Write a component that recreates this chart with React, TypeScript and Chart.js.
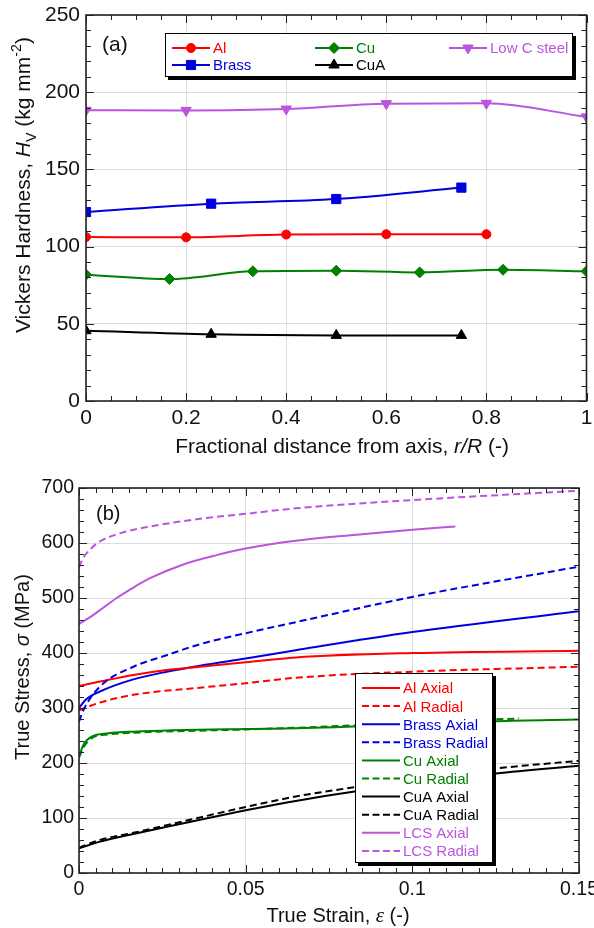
import React, { useEffect, useRef } from 'react';
import { Chart, registerables } from 'chart.js';
Chart.register(...registerables);

const SANS = "'Liberation Sans', Arial, Helvetica, sans-serif";
const SERIF = "'Liberation Serif', 'Times New Roman', serif";
const GRID = '#dddddd';
const FRAME = '#222222';
const TEXT = '#111111';

const RED = '#ff0000';
const BLUE = '#0000dd';
const GREEN = '#008000';
const BLACK = '#000000';
const VIOLET = '#bb55dd';

// ---------- (a) Vickers hardness vs r/R ----------
const alX = [0, 0.2, 0.4, 0.6, 0.8];
const alHV = [106.2, 106, 107.8, 108, 108];
const brassX = [0, 0.25, 0.5, 0.75];
const brassHV = [122.4, 127.8, 130.8, 138.2];
const cuX = [0, 0.1667, 0.3333, 0.5, 0.6667, 0.8333, 1];
const cuHV = [81.8, 79, 84, 84.4, 83.3, 85, 84];
const cuaX = [0, 0.25, 0.5, 0.75];
const cuaHV = [45.5, 43.2, 42.5, 42.5];
const lcsX = [0, 0.2, 0.4, 0.6, 0.8, 1];
const lcsHV = [188.3, 188.2, 189.1, 192.6, 192.8, 184];
const legendALabels = ['Al', 'Brass', 'Cu', 'CuA', 'Low C steel'];

// ---------- (b) True stress vs true strain ----------
const alAxialStrain = [0, 0.0063, 0.0163, 0.0263, 0.0363, 0.05, 0.065, 0.1, 0.15];
const alAxialStress = [340, 348, 360, 369, 375, 383, 392, 400, 404];
const alRadialStrain = [0, 0.0063, 0.0163, 0.0363, 0.05, 0.065, 0.1, 0.15];
const alRadialStress = [296, 310, 324, 337, 345, 355, 366, 375];
const brassAxialStrain = [0, 0.002, 0.0063, 0.0163, 0.0263, 0.0363, 0.05, 0.065, 0.1, 0.15];
const brassAxialStress = [300, 315, 330, 352, 366, 377, 390, 405, 438, 476];
const brassRadialStrain = [0, 0.0013, 0.0063, 0.0163, 0.0263, 0.0363, 0.05, 0.065, 0.1, 0.15];
const brassRadialStress = [275, 296, 339, 375, 396, 416, 436, 456, 502, 557];
const cuAxialStrain = [0, 0.0013, 0.0038, 0.0088, 0.0163, 0.05, 0.065, 0.1, 0.125, 0.15];
const cuAxialStress = [211, 233, 248, 254, 257, 262, 263, 270, 276, 279];
const cuRadialStrain = [0, 0.0013, 0.0038, 0.0088, 0.0163, 0.05, 0.065, 0.1, 0.132];
const cuRadialStress = [210, 228, 245, 252, 255, 261, 264, 273, 281];
const cuaAxialStrain = [0, 0.0063, 0.0163, 0.0263, 0.0363, 0.05, 0.065, 0.0827, 0.125, 0.15];
const cuaAxialStress = [45, 57, 71, 84, 97, 114, 131, 148, 181, 195];
const cuaRadialStrain = [0, 0.0063, 0.0163, 0.0263, 0.0363, 0.05, 0.065, 0.0827, 0.125, 0.15];
const cuaRadialStress = [46, 60, 73, 87, 101, 120, 139, 156, 190, 204];
const lcsAxialStrain = [0, 0.0038, 0.0063, 0.0088, 0.0113, 0.0163, 0.0213, 0.0313, 0.0413, 0.05, 0.065, 0.0832, 0.1, 0.1129];
const lcsAxialStress = [453, 467, 478, 489, 500, 519, 536, 561, 578, 590, 604, 615, 624, 630];
const lcsRadialStrain = [0, 0.0013, 0.0038, 0.0063, 0.0125, 0.0213, 0.0363, 0.05, 0.065, 0.1, 0.15];
const lcsRadialStress = [556, 573, 591, 603, 618, 630, 644, 653, 663, 678, 695];
const legendBLabels = ['Al Axial', 'Al Radial', 'Brass Axial', 'Brass Radial', 'Cu Axial', 'Cu Radial', 'CuA Axial', 'CuA Radial', 'LCS Axial', 'LCS Radial'];

type Seg = { t: string; italic?: boolean; scale?: number; dy?: number; serif?: boolean };

function pts(xs: number[], ys: number[]) {
  return xs.map((x, i) => ({ x, y: ys[i] }));
}

function richText(ctx: CanvasRenderingContext2D, segs: Seg[], cx: number, cy: number, size: number, rotate: boolean) {
  ctx.save();
  ctx.translate(cx, cy);
  if (rotate) ctx.rotate(-Math.PI / 2);
  ctx.textBaseline = 'alphabetic';
  ctx.textAlign = 'left';
  ctx.fillStyle = TEXT;
  const fonts = segs.map(s => `${s.italic ? 'italic ' : ''}${(size * (s.scale ?? 1)).toFixed(1)}px ${s.serif ? SERIF : SANS}`);
  const widths = segs.map((s, i) => { ctx.font = fonts[i]; return ctx.measureText(s.t).width; });
  const total = widths.reduce((a, b) => a + b, 0);
  let x = -total / 2;
  const base = size * 0.36;
  segs.forEach((s, i) => { ctx.font = fonts[i]; ctx.fillText(s.t, x, base + (s.dy ?? 0)); x += widths[i]; });
  ctx.restore();
}

function marker(ctx: CanvasRenderingContext2D, style: string, x: number, y: number, r: number, color: string) {
  ctx.save();
  ctx.fillStyle = color;
  ctx.strokeStyle = color;
  ctx.lineWidth = 1;
  ctx.setLineDash([]);
  ctx.beginPath();
  if (style === 'circle') {
    ctx.arc(x, y, r, 0, Math.PI * 2);
  } else if (style === 'rect') {
    const h = r * Math.SQRT1_2;
    ctx.rect(x - h, y - h, 2 * h, 2 * h);
  } else if (style === 'rectRot') {
    ctx.moveTo(x, y - r); ctx.lineTo(x + r, y); ctx.lineTo(x, y + r); ctx.lineTo(x - r, y); ctx.closePath();
  } else {
    const down = style === 'triangleDown';
    for (let k = 0; k < 3; k++) {
      const a = (down ? Math.PI : 0) + k * (2 * Math.PI / 3);
      const px = x + Math.sin(a) * r, py = y - Math.cos(a) * r;
      if (k === 0) ctx.moveTo(px, py); else ctx.lineTo(px, py);
    }
    ctx.closePath();
  }
  ctx.fill();
  ctx.stroke();
  ctx.restore();
}

function frameAndTicks(chart: any, xMinor: number, xMajor: number, yMinor: number, yMajor: number) {
  const { ctx, chartArea: a, scales } = chart;
  const xs = scales.x, ys = scales.y;
  ctx.save();
  ctx.strokeStyle = FRAME;
  ctx.lineWidth = 1;
  ctx.setLineDash([]);
  ctx.beginPath();
  const nx = Math.round((xs.max - xs.min) / xMinor);
  const rx = Math.round(xMajor / xMinor);
  for (let i = 0; i <= nx; i++) {
    const px = Math.round(xs.getPixelForValue(xs.min + i * xMinor)) + 0.5;
    const L = i % rx === 0 ? 8 : 5;
    ctx.moveTo(px, a.bottom); ctx.lineTo(px, a.bottom - L);
    ctx.moveTo(px, a.top); ctx.lineTo(px, a.top + L);
  }
  const ny = Math.round((ys.max - ys.min) / yMinor);
  const ry = Math.round(yMajor / yMinor);
  for (let i = 0; i <= ny; i++) {
    const py = Math.round(ys.getPixelForValue(ys.min + i * yMinor)) + 0.5;
    const L = i % ry === 0 ? 8 : 5;
    ctx.moveTo(a.left, py); ctx.lineTo(a.left + L, py);
    ctx.moveTo(a.right, py); ctx.lineTo(a.right - L, py);
  }
  ctx.stroke();
  ctx.lineWidth = 1.6;
  ctx.strokeRect(a.left, a.top, a.right - a.left, a.bottom - a.top);
  ctx.restore();
}

function legendBox(ctx: CanvasRenderingContext2D, x: number, y: number, w: number, h: number) {
  ctx.save();
  ctx.fillStyle = '#000';
  ctx.fillRect(x + 3, y + 3, w, h);
  ctx.fillStyle = '#fff';
  ctx.fillRect(x, y, w, h);
  ctx.strokeStyle = '#000';
  ctx.lineWidth = 1;
  ctx.strokeRect(x + 0.5, y + 0.5, w - 1, h - 1);
  ctx.restore();
}

function legendEntry(ctx: CanvasRenderingContext2D, x0: number, x1: number, y: number, color: string, dashed: boolean, label: string, size: number, mk?: string, r?: number) {
  ctx.save();
  ctx.strokeStyle = color;
  ctx.lineWidth = 2;
  ctx.setLineDash(dashed ? [7, 3.5] : []);
  ctx.beginPath();
  ctx.moveTo(x0, y); ctx.lineTo(x1, y);
  ctx.stroke();
  ctx.restore();
  if (mk) marker(ctx, mk, (x0 + x1) / 2, y, r ?? 5, color);
  ctx.save();
  ctx.fillStyle = color;
  ctx.font = `${size}px ${SANS}`;
  ctx.textBaseline = 'alphabetic';
  ctx.textAlign = 'left';
  ctx.fillText(label, x1 + 3, y + size * 0.36);
  ctx.restore();
}

function fixScale(kind: 'x' | 'y', size: number) {
  return (s: any) => {
    if (kind === 'x') s.height = size; else s.width = size;
    s.paddingLeft = 0; s.paddingRight = 0; s.paddingTop = 0; s.paddingBottom = 0;
  };
}

const fmt = (v: any) => String(Math.round(Number(v) * 10000) / 10000);

const pluginA = {
  id: 'decorA',
  afterDatasetsDraw(chart: any) {
    const ctx = chart.ctx as CanvasRenderingContext2D;
    frameAndTicks(chart, 0.05, 0.2, 10, 50);
    legendBox(ctx, 165, 33, 408, 44);
    legendEntry(ctx, 172, 210, 48, RED, false, legendALabels[0], 15, 'circle', 4.5);
    legendEntry(ctx, 172, 210, 65, BLUE, false, legendALabels[1], 15, 'rect', 6.5);
    legendEntry(ctx, 315, 353, 48, GREEN, false, legendALabels[2], 15, 'rectRot', 5.5);
    legendEntry(ctx, 315, 353, 65, BLACK, false, legendALabels[3], 15, 'triangle', 6);
    legendEntry(ctx, 449, 487, 48, VIOLET, false, legendALabels[4], 15, 'triangleDown', 6);
    ctx.save();
    ctx.fillStyle = TEXT;
    ctx.font = `21px ${SANS}`;
    ctx.textBaseline = 'alphabetic';
    ctx.fillText('(a)', 102, 43 + 21 * 0.36);
    ctx.restore();
    richText(ctx, [
      { t: 'Vickers Hardness, ' }, { t: 'H', italic: true }, { t: 'V', scale: 0.68, dy: 6 },
      { t: ' (kg mm' }, { t: '-2', scale: 0.68, dy: -9 }, { t: ')' },
    ], 22, 185, 21, true);
    richText(ctx, [
      { t: 'Fractional distance from axis, ' }, { t: 'r/R', italic: true }, { t: ' (-)' },
    ], 342, 445, 21, false);
  },
};

const pluginB = {
  id: 'decorB',
  afterDatasetsDraw(chart: any) {
    const ctx = chart.ctx as CanvasRenderingContext2D;
    frameAndTicks(chart, 0.005, 0.05, 20, 100);
    legendBox(ctx, 355, 213, 138, 190);
    const colors = [RED, RED, BLUE, BLUE, GREEN, GREEN, BLACK, BLACK, VIOLET, VIOLET];
    legendBLabels.forEach((lab, i) => {
      legendEntry(ctx, 362, 400, 228 + i * 18.1, colors[i], i % 2 === 1, lab, 15);
    });
    ctx.save();
    ctx.fillStyle = TEXT;
    ctx.font = `20px ${SANS}`;
    ctx.textBaseline = 'alphabetic';
    ctx.fillText('(b)', 96, 53 + 20 * 0.36);
    ctx.restore();
    richText(ctx, [
      { t: 'True Stress, ' }, { t: 'σ', italic: true }, { t: ' (MPa)' },
    ], 22, 207, 20, true);
    richText(ctx, [
      { t: 'True Strain, ' }, { t: 'ε', italic: true, serif: true, scale: 1.05 }, { t: ' (-)' },
    ], 338, 455, 20, false);
  },
};

function lineDs(label: string, xs: number[], ys: number[], color: string, dashed: boolean) {
  return {
    label,
    data: pts(xs, ys),
    borderColor: color,
    backgroundColor: color,
    borderWidth: 2,
    borderDash: dashed ? [7, 4] : [],
    pointRadius: 0,
    fill: false,
    cubicInterpolationMode: 'monotone' as const,
  };
}

function markDs(label: string, xs: number[], ys: number[], color: string, style: string, r: number, rot = 0) {
  return {
    label,
    data: pts(xs, ys),
    borderColor: color,
    backgroundColor: color,
    pointBackgroundColor: color,
    pointBorderColor: color,
    borderWidth: 2,
    pointStyle: style,
    pointRotation: rot,
    pointRadius: r,
    pointBorderWidth: 1,
    fill: false,
    cubicInterpolationMode: 'monotone' as const,
  };
}

function axisCommon(size: number, padding: number, step: number) {
  return {
    type: 'linear' as const,
    ticks: { font: { family: SANS, size }, color: TEXT, padding, maxRotation: 0, autoSkip: false, stepSize: step, callback: fmt },
    grid: { color: GRID, lineWidth: 1, drawTicks: false },
    border: { display: false },
  };
}

function ChartA() {
  const ref = useRef<HTMLCanvasElement>(null);
  useEffect(() => {
    const chart = new Chart(ref.current!, {
      type: 'line',
      data: {
        datasets: [
          markDs('Low C steel', lcsX, lcsHV, VIOLET, 'triangle', 6, 180),
          markDs('Brass', brassX, brassHV, BLUE, 'rect', 6.5),
          markDs('Al', alX, alHV, RED, 'circle', 4.5),
          markDs('Cu', cuX, cuHV, GREEN, 'rectRot', 5.5),
          markDs('CuA', cuaX, cuaHV, BLACK, 'triangle', 6),
        ] as any,
      },
      options: {
        responsive: false,
        animation: false,
        events: [],
        layout: { padding: { top: 15, right: 3, left: 0, bottom: 0 } },
        plugins: { legend: { display: false }, tooltip: { enabled: false } },
        scales: {
          x: { ...axisCommon(21, 5, 0.2), min: 0, max: 1, afterFit: fixScale('x', 59) },
          y: { ...axisCommon(21, 6, 50), min: 0, max: 250, afterFit: fixScale('y', 86) },
        },
      } as any,
      plugins: [pluginA],
    });
    return () => chart.destroy();
  }, []);
  return <canvas ref={ref} width={594} height={460} style={{ display: 'block' }} />;
}

function ChartB() {
  const ref = useRef<HTMLCanvasElement>(null);
  useEffect(() => {
    const chart = new Chart(ref.current!, {
      type: 'line',
      data: {
        datasets: [
          lineDs('LCS Radial', lcsRadialStrain, lcsRadialStress, VIOLET, true),
          lineDs('LCS Axial', lcsAxialStrain, lcsAxialStress, VIOLET, false),
          lineDs('Brass Radial', brassRadialStrain, brassRadialStress, BLUE, true),
          lineDs('Al Radial', alRadialStrain, alRadialStress, RED, true),
          lineDs('Al Axial', alAxialStrain, alAxialStress, RED, false),
          lineDs('Brass Axial', brassAxialStrain, brassAxialStress, BLUE, false),
          lineDs('Cu Radial', cuRadialStrain, cuRadialStress, GREEN, true),
          lineDs('Cu Axial', cuAxialStrain, cuAxialStress, GREEN, false),
          lineDs('CuA Radial', cuaRadialStrain, cuaRadialStress, BLACK, true),
          lineDs('CuA Axial', cuaAxialStrain, cuaAxialStress, BLACK, false),
        ] as any,
      },
      options: {
        responsive: false,
        animation: false,
        events: [],
        layout: { padding: { top: 28, right: 15, left: 0, bottom: 0 } },
        plugins: { legend: { display: false }, tooltip: { enabled: false } },
        scales: {
          x: { ...axisCommon(19.5, 5, 0.05), min: 0, max: 0.15, afterFit: fixScale('x', 55) },
          y: { ...axisCommon(19.5, 5, 100), min: 0, max: 700, afterFit: fixScale('y', 79) },
        },
      } as any,
      plugins: [pluginB],
    });
    return () => chart.destroy();
  }, []);
  return <canvas ref={ref} width={594} height={468} style={{ display: 'block' }} />;
}

export default function App() {
  return (
    <div style={{ position: 'absolute', left: 0, top: 0, width: 594, height: 928, background: '#fff' }}>
      <ChartA />
      <ChartB />
    </div>
  );
}
